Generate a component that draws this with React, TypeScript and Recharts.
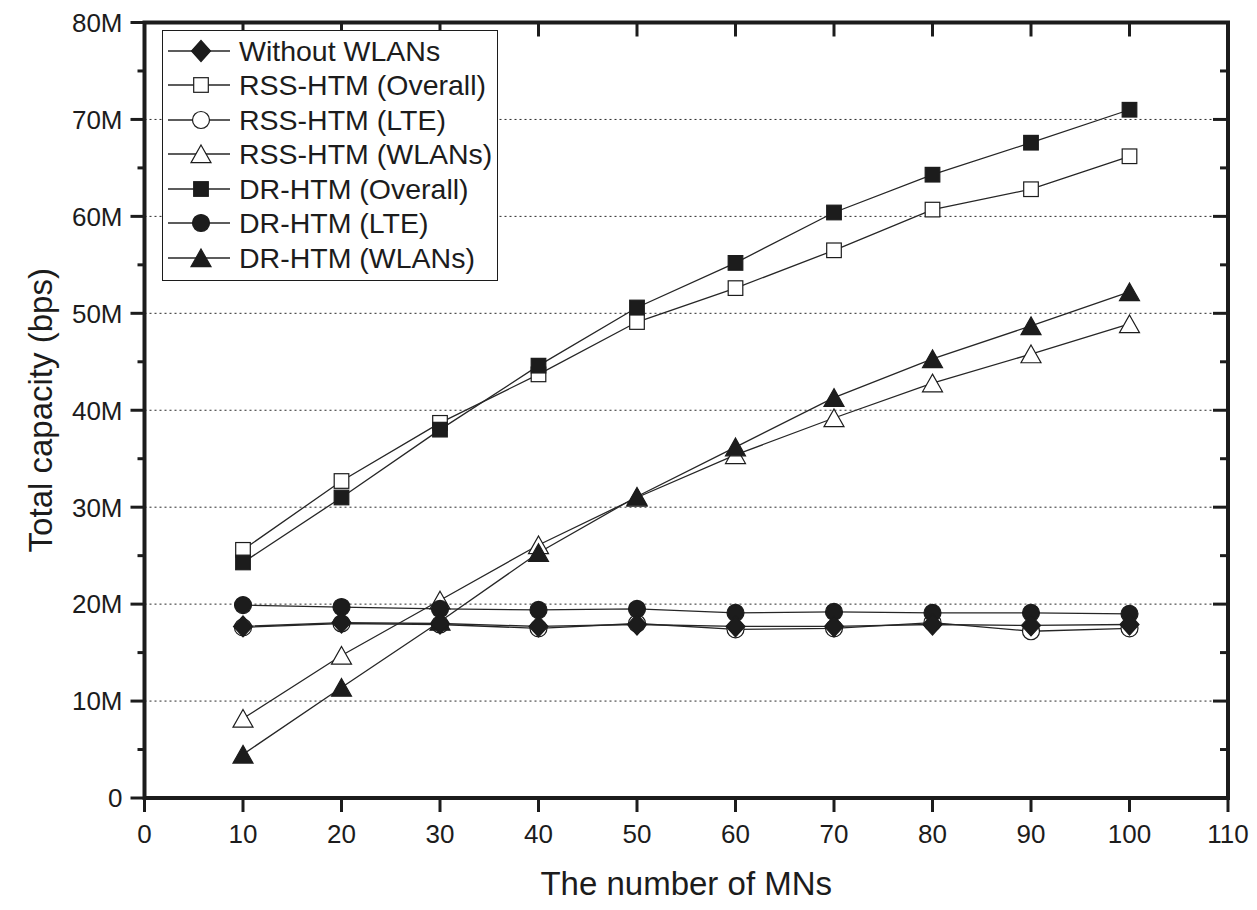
import { LineChart, Line, XAxis, YAxis, CartesianGrid, Legend, ReferenceArea } from "recharts";

// number of MNs on the x axis
const mns = [10, 20, 30, 40, 50, 60, 70, 80, 90, 100];

// total capacity, in Mbps
const withoutWlans = [17.7, 18.1, 18.0, 17.7, 17.9, 17.7, 17.7, 17.9, 17.8, 17.9];
const rssOverall = [25.6, 32.7, 38.7, 43.7, 49.1, 52.6, 56.5, 60.7, 62.8, 66.2];
const rssLte = [17.6, 18.0, 17.9, 17.5, 18.0, 17.4, 17.5, 18.1, 17.2, 17.5];
const rssWlans = [8.2, 14.7, 20.4, 26.1, 31.0, 35.4, 39.2, 42.8, 45.8, 48.9];
const drOverall = [24.3, 31.0, 38.0, 44.6, 50.6, 55.2, 60.4, 64.3, 67.6, 71.0];
const drLte = [19.9, 19.7, 19.5, 19.4, 19.5, 19.1, 19.2, 19.1, 19.1, 19.0];
const drWlans = [4.5, 11.4, 18.2, 25.3, 31.1, 36.2, 41.3, 45.3, 48.7, 52.2];

const xTicks = [0, 10, 20, 30, 40, 50, 60, 70, 80, 90, 100, 110];
const yMajorTicks = [0, 10, 20, 30, 40, 50, 60, 70, 80];
const yAllTicks = [0, 5, 10, 15, 20, 25, 30, 35, 40, 45, 50, 55, 60, 65, 70, 75, 80];

const rows = mns.map((mn, i) => ({
  mn,
  withoutWlans: withoutWlans[i],
  rssOverall: rssOverall[i],
  rssLte: rssLte[i],
  rssWlans: rssWlans[i],
  drOverall: drOverall[i],
  drLte: drLte[i],
  drWlans: drWlans[i],
}));

type Shape = "diamond" | "square" | "circle" | "triangle";

const SERIES: { key: string; name: string; shape: Shape; filled: boolean }[] = [
  { key: "withoutWlans", name: "Without WLANs", shape: "diamond", filled: true },
  { key: "rssOverall", name: "RSS-HTM (Overall)", shape: "square", filled: false },
  { key: "rssLte", name: "RSS-HTM (LTE)", shape: "circle", filled: false },
  { key: "rssWlans", name: "RSS-HTM (WLANs)", shape: "triangle", filled: false },
  { key: "drOverall", name: "DR-HTM (Overall)", shape: "square", filled: true },
  { key: "drLte", name: "DR-HTM (LTE)", shape: "circle", filled: true },
  { key: "drWlans", name: "DR-HTM (WLANs)", shape: "triangle", filled: true },
];

// in the original the diamonds sit on top of the open LTE circles
const DRAW_ORDER = [...SERIES.slice(1), SERIES[0]];

const INK = "#1c1c1c";
const LINE = "#262626";
const FONT = "Arial, 'Liberation Sans', sans-serif";
const W = 1257;
const H = 910;
const PLOT_LEFT = 144.5;
const PLOT_TOP = 22.5;
const PLOT_RIGHT = 1228;
const PLOT_BOTTOM = 798;

function Marker({ cx, cy, shape, filled }: { cx: number; cy: number; shape: Shape; filled: boolean }) {
  const common = { fill: filled ? INK : "#fff", stroke: INK, strokeWidth: 1.2 };
  if (shape === "diamond") {
    return <polygon {...common} points={`${cx},${cy - 10.5} ${cx + 9.5},${cy} ${cx},${cy + 10.5} ${cx - 9.5},${cy}`} />;
  }
  if (shape === "square") {
    return <rect {...common} x={cx - 7.3} y={cy - 7.3} width={14.6} height={14.6} />;
  }
  if (shape === "circle") {
    return <circle {...common} cx={cx} cy={cy} r={8.5} />;
  }
  return <polygon {...common} points={`${cx},${cy - 9} ${cx + 10},${cy + 8.7} ${cx - 10},${cy + 8.7}`} />;
}

// left ticks go outward, the matching ticks on the right frame go inward
function LeftTick(props: any) {
  const { y, payload } = props;
  const v = payload.value;
  const major = v % 10 === 0;
  return (
    <g>
      <line x1={PLOT_LEFT - (major ? 14 : 7)} x2={PLOT_LEFT} y1={y} y2={y} stroke={INK} strokeWidth={3} />
      <line x1={PLOT_RIGHT - (major ? 15 : 8)} x2={PLOT_RIGHT} y1={y} y2={y} stroke={INK} strokeWidth={3} />
      {major && (
        <text x={PLOT_LEFT - 22} y={y} dy="0.36em" textAnchor="end" fontSize={26} fontFamily={FONT} fill={INK}>
          {v === 0 ? "0" : `${v}M`}
        </text>
      )}
    </g>
  );
}

function BottomTick(props: any) {
  const { x, payload } = props;
  return (
    <g>
      <line x1={x} x2={x} y1={PLOT_BOTTOM} y2={PLOT_BOTTOM + 14} stroke={INK} strokeWidth={3} />
      <line x1={x} x2={x} y1={PLOT_TOP} y2={PLOT_TOP + 14} stroke={INK} strokeWidth={3} />
      <text x={x} y={843} textAnchor="middle" fontSize={26} fontFamily={FONT} fill={INK}>
        {payload.value}
      </text>
    </g>
  );
}

function YTitle(props: any) {
  const vb = props.viewBox || { x: 0, y: PLOT_TOP, width: PLOT_LEFT, height: PLOT_BOTTOM - PLOT_TOP };
  const cy = vb.y + vb.height / 2;
  return (
    <text
      x={52}
      y={cy}
      transform={`rotate(-90, 52, ${cy})`}
      textAnchor="middle"
      fontSize={33}
      fontFamily={FONT}
      fill={INK}
    >
      Total capacity (bps)
    </text>
  );
}

function XTitle(props: any) {
  const vb = props.viewBox || { x: PLOT_LEFT, y: PLOT_BOTTOM, width: PLOT_RIGHT - PLOT_LEFT, height: H - PLOT_BOTTOM };
  return (
    <text x={vb.x + vb.width / 2} y={vb.y + vb.height - 15} textAnchor="middle" fontSize={33} fontFamily={FONT} fill={INK}>
      The number of MNs
    </text>
  );
}

function LegendBox() {
  return (
    <div
      style={{
        width: 334,
        height: 246,
        border: `1.3px solid ${INK}`,
        background: "#fff",
        paddingTop: 2.5,
        boxSizing: "content-box",
        fontFamily: FONT,
      }}
    >
      {SERIES.map((s) => (
        <div key={s.key} style={{ display: "flex", alignItems: "center", height: 34.5 }}>
          <svg width={76} height={34} style={{ flex: "none" }}>
            <line x1={5} x2={67} y1={17} y2={17} stroke={LINE} strokeWidth={1.3} />
            <Marker cx={38} cy={17} shape={s.shape} filled={s.filled} />
          </svg>
          <span style={{ fontSize: 28.5, color: INK, lineHeight: "34.5px", whiteSpace: "nowrap" }}>{s.name}</span>
        </div>
      ))}
    </div>
  );
}

export default function App() {
  return (
    <div style={{ position: "absolute", left: 0, top: 0, background: "#fff" }}>
      <LineChart
        width={W}
        height={H}
        data={rows}
        margin={{ top: PLOT_TOP, right: W - PLOT_RIGHT, bottom: 0, left: 0 }}
      >
        <CartesianGrid
          yAxisId="left"
          vertical={false}
          horizontalValues={yMajorTicks}
          stroke="#2a2a2a"
          strokeDasharray="2 3"
          strokeWidth={1}
        />
        <XAxis
          dataKey="mn"
          type="number"
          domain={[0, 110]}
          allowDataOverflow
          ticks={xTicks}
          interval={0}
          height={H - PLOT_BOTTOM}
          tickLine={false}
          axisLine={false}
          tick={<BottomTick />}
          label={<XTitle />}
        />
        <YAxis
          yAxisId="left"
          width={PLOT_LEFT}
          type="number"
          domain={[0, 80]}
          allowDataOverflow
          ticks={yAllTicks}
          interval={0}
          tickLine={false}
          axisLine={false}
          tick={<LeftTick />}
          label={<YTitle />}
        />
        <Legend
          layout="vertical"
          align="center"
          verticalAlign="middle"
          wrapperStyle={{ left: 162, top: 30 }}
          content={() => <LegendBox />}
        />
        {DRAW_ORDER.map((s) => (
          <Line
            key={s.key}
            yAxisId="left"
            dataKey={s.key}
            name={s.name}
            type="linear"
            stroke={LINE}
            strokeWidth={1.3}
            isAnimationActive={false}
            dot={(p: any) => (
              <Marker key={`${s.key}-${p.index}`} cx={p.cx} cy={p.cy} shape={s.shape} filled={s.filled} />
            )}
            activeDot={false}
          />
        ))}
        <ReferenceArea
          yAxisId="left"
          x1={0}
          x2={110}
          y1={0}
          y2={80}
          ifOverflow="visible"
          fill="none"
          fillOpacity={0}
          stroke={INK}
          strokeWidth={4}
        />
      </LineChart>
    </div>
  );
}
